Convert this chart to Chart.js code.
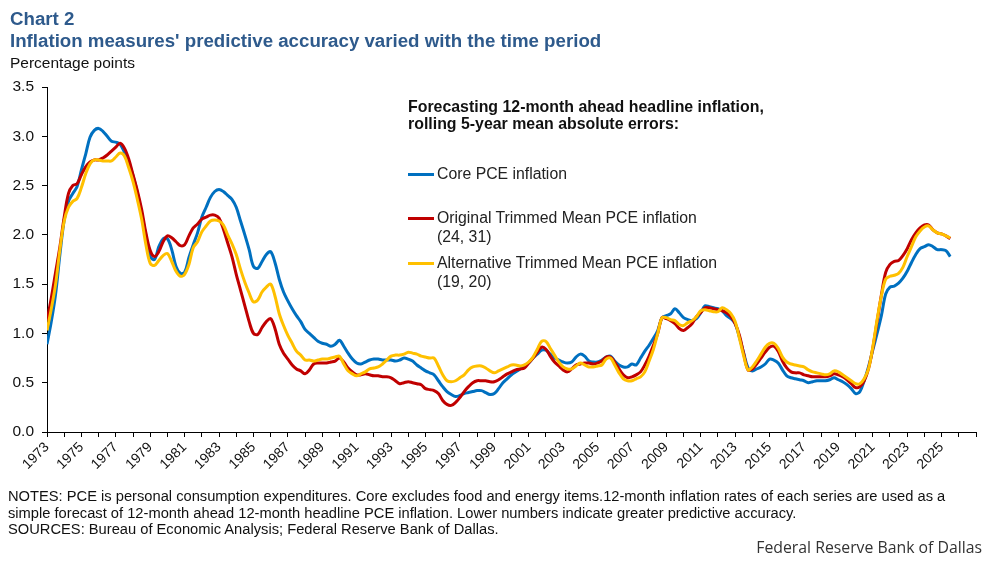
<!DOCTYPE html>
<html>
<head>
<meta charset="utf-8">
<script src="https://cdn.jsdelivr.net/npm/chart.js@4.4.1/dist/chart.umd.min.js"></script>
<style>
  body { margin: 0; background: #fff; font-family: "Liberation Sans", Arial, sans-serif; }
  #wrap { position: relative; width: 997px; height: 565px; overflow: hidden; }
  #chart { position: absolute; left: 0; top: 0; }
  .t { position: absolute; white-space: nowrap; }
  .title { left: 10px; font-weight: bold; font-size: 18.7px; line-height: 20px; color: #2e5a8c; }
  .units { left: 10px; top: 54px; font-size: 15.5px; line-height: 18px; color: #111; }
  .legend-head { left: 408px; top: 98px; font-weight: bold; font-size: 15.9px; line-height: 17px; color: #111; }
  .legend-item { left: 437px; font-size: 15.8px; line-height: 19px; color: #222; }
  .swatch { position: absolute; left: 408px; width: 26px; height: 3px; }
  .notes { left: 8px; top: 488px; font-size: 14.7px; line-height: 16.5px; color: #111; }
  .credit { right: 15px; top: 536px; font-family: "Open Sans", sans-serif; font-size: 15.8px; color: #333; }
</style>
</head>
<body>
<div id="wrap">
  <canvas id="chart" width="997" height="565"></canvas>
  <div class="t title" style="top:9px">Chart 2</div>
  <div class="t title" style="top:31px">Inflation measures' predictive accuracy varied with the time period</div>
  <div class="t units">Percentage points</div>
  <div class="t legend-head">Forecasting 12-month ahead headline inflation,<br>rolling 5-year mean absolute errors:</div>
  <div class="swatch" style="top:173px;background:#0070c0"></div>
  <div class="t legend-item" style="top:164px">Core PCE inflation</div>
  <div class="swatch" style="top:217px;background:#c00000"></div>
  <div class="t legend-item" style="top:208px">Original Trimmed Mean PCE inflation<br>(24, 31)</div>
  <div class="swatch" style="top:262px;background:#ffc000"></div>
  <div class="t legend-item" style="top:253px">Alternative Trimmed Mean PCE inflation<br>(19, 20)</div>
  <div class="t notes">NOTES: PCE is personal consumption expenditures. Core excludes food and energy items.12-month inflation rates of each series are used as a<br>simple forecast of 12-month ahead 12-month headline PCE inflation. Lower numbers indicate greater predictive accuracy.<br>SOURCES: Bureau of Economic Analysis; Federal Reserve Bank of Dallas.</div>
  <div class="t credit">Federal Reserve Bank of Dallas</div>
</div>
<script>
// quarterly readings, 1973Q1 .. 2025Q3
const corePce = [
  0.89, 1.12, 1.40, 1.80, // 1973
  2.15, 2.34, 2.42, 2.49,
  2.66, 2.82, 2.99, 3.06, // 1975
  3.08, 3.05, 3.00, 2.95,
  2.94, 2.92, 2.84, 2.74, // 1977
  2.60, 2.43, 2.22, 1.99,
  1.78, 1.75, 1.88, 1.96, // 1979
  1.96, 1.85, 1.68, 1.61,
  1.62, 1.77, 1.90, 2.02, // 1981
  2.18, 2.28, 2.38, 2.44,
  2.46, 2.44, 2.40, 2.36, // 1983
  2.28, 2.14, 2.00, 1.85,
  1.68, 1.66, 1.73, 1.80, // 1985
  1.83, 1.72, 1.55, 1.42,
  1.33, 1.25, 1.18, 1.12, // 1987
  1.04, 1.00, 0.96, 0.92,
  0.90, 0.89, 0.87, 0.89, // 1989
  0.93, 0.87, 0.80, 0.74,
  0.70, 0.69, 0.71, 0.73, // 1991
  0.74, 0.74, 0.73, 0.73,
  0.73, 0.72, 0.73, 0.75, // 1993
  0.74, 0.72, 0.68, 0.65,
  0.62, 0.60, 0.58, 0.52, // 1995
  0.46, 0.41, 0.38, 0.36,
  0.37, 0.39, 0.40, 0.41, // 1997
  0.42, 0.42, 0.40, 0.38,
  0.39, 0.44, 0.50, 0.54, // 1999
  0.58, 0.61, 0.64, 0.67,
  0.70, 0.75, 0.79, 0.83, // 2001
  0.83, 0.79, 0.75, 0.73,
  0.71, 0.70, 0.71, 0.76, // 2003
  0.79, 0.77, 0.72, 0.71,
  0.71, 0.73, 0.76, 0.77, // 2005
  0.72, 0.68, 0.66, 0.66,
  0.69, 0.68, 0.75, 0.82, // 2007
  0.88, 0.95, 1.03, 1.16,
  1.18, 1.20, 1.25, 1.21, // 2009
  1.16, 1.14, 1.13, 1.15,
  1.21, 1.28, 1.27, 1.26, // 2011
  1.25, 1.23, 1.18, 1.15,
  1.10, 0.96, 0.80, 0.65, // 2013
  0.62, 0.64, 0.66, 0.69,
  0.74, 0.73, 0.70, 0.63, // 2015
  0.57, 0.55, 0.54, 0.53,
  0.52, 0.50, 0.51, 0.52, // 2017
  0.52, 0.52, 0.53, 0.55,
  0.53, 0.51, 0.48, 0.44, // 2019
  0.39, 0.41, 0.52, 0.66,
  0.83, 1.00, 1.18, 1.40, // 2021
  1.47, 1.48, 1.51, 1.56,
  1.63, 1.72, 1.80, 1.86, // 2023
  1.88, 1.90, 1.88, 1.85,
  1.85, 1.84, 1.78        // 2025
];

const originalTrimmed = [
  1.13, 1.36, 1.62, 1.88, // 1973
  2.18, 2.42, 2.50, 2.52,
  2.61, 2.69, 2.74, 2.76, // 1975
  2.76, 2.78, 2.81, 2.85,
  2.89, 2.93, 2.88, 2.77, // 1977
  2.61, 2.45, 2.26, 2.02,
  1.84, 1.78, 1.83, 1.93, // 1979
  1.99, 1.97, 1.93, 1.89,
  1.90, 1.99, 2.07, 2.11, // 1981
  2.16, 2.18, 2.20, 2.20,
  2.17, 2.06, 1.92, 1.78, // 1983
  1.60, 1.44, 1.28, 1.12,
  1.00, 0.99, 1.06, 1.12, // 1985
  1.15, 1.05, 0.89, 0.80,
  0.74, 0.68, 0.64, 0.62, // 1987
  0.59, 0.63, 0.69, 0.70,
  0.70, 0.70, 0.71, 0.72, // 1989
  0.75, 0.71, 0.65, 0.61,
  0.58, 0.58, 0.59, 0.58, // 1991
  0.57, 0.57, 0.56, 0.56,
  0.55, 0.52, 0.49, 0.50, // 1993
  0.51, 0.50, 0.49, 0.48,
  0.44, 0.43, 0.42, 0.39, // 1995
  0.32, 0.28, 0.27, 0.30,
  0.35, 0.41, 0.46, 0.50, // 1997
  0.52, 0.52, 0.52, 0.51,
  0.51, 0.53, 0.56, 0.59, // 1999
  0.61, 0.63, 0.64, 0.65,
  0.70, 0.75, 0.81, 0.86, // 2001
  0.84, 0.77, 0.71, 0.67,
  0.63, 0.61, 0.64, 0.68, // 2003
  0.69, 0.70, 0.70, 0.69,
  0.70, 0.72, 0.76, 0.76, // 2005
  0.71, 0.64, 0.58, 0.55,
  0.56, 0.58, 0.61, 0.68, // 2007
  0.77, 0.88, 1.00, 1.16,
  1.15, 1.13, 1.10, 1.05, // 2009
  1.03, 1.06, 1.10, 1.17,
  1.21, 1.26, 1.26, 1.25, // 2011
  1.24, 1.23, 1.21, 1.17,
  1.10, 0.98, 0.79, 0.63, // 2013
  0.64, 0.69, 0.75, 0.81,
  0.86, 0.87, 0.82, 0.72, // 2015
  0.65, 0.61, 0.60, 0.60,
  0.58, 0.57, 0.56, 0.56, // 2017
  0.56, 0.56, 0.57, 0.59,
  0.58, 0.56, 0.53, 0.49, // 2019
  0.45, 0.46, 0.52, 0.64,
  0.85, 1.12, 1.39, 1.62, // 2021
  1.70, 1.73, 1.74, 1.79,
  1.86, 1.95, 2.02, 2.07, // 2023
  2.10, 2.10, 2.05, 2.02,
  2.01, 1.99, 1.96        // 2025
];

const alternativeTrimmed = [
  1.03, 1.25, 1.50, 1.85, // 1973
  2.14, 2.28, 2.34, 2.37,
  2.48, 2.62, 2.72, 2.76, // 1975
  2.76, 2.75, 2.75, 2.75,
  2.79, 2.83, 2.80, 2.68, // 1977
  2.54, 2.36, 2.16, 1.90,
  1.71, 1.69, 1.74, 1.79, // 1979
  1.81, 1.73, 1.63, 1.58,
  1.60, 1.70, 1.87, 1.93, // 1981
  2.03, 2.09, 2.14, 2.15,
  2.14, 2.10, 2.00, 1.91, // 1983
  1.80, 1.65, 1.52, 1.41,
  1.32, 1.34, 1.42, 1.47, // 1985
  1.50, 1.38, 1.20, 1.08,
  0.98, 0.90, 0.82, 0.78, // 1987
  0.73, 0.73, 0.72, 0.73,
  0.74, 0.74, 0.75, 0.76, // 1989
  0.77, 0.69, 0.62, 0.59,
  0.57, 0.59, 0.61, 0.64, // 1991
  0.65, 0.66, 0.69, 0.73,
  0.77, 0.78, 0.78, 0.79, // 1993
  0.81, 0.80, 0.79, 0.77,
  0.76, 0.75, 0.75, 0.67, // 1995
  0.58, 0.52, 0.51, 0.52,
  0.55, 0.58, 0.63, 0.66, // 1997
  0.67, 0.67, 0.65, 0.62,
  0.60, 0.62, 0.64, 0.66, // 1999
  0.68, 0.68, 0.67, 0.68,
  0.71, 0.76, 0.84, 0.92, // 2001
  0.92, 0.85, 0.78, 0.71,
  0.66, 0.64, 0.64, 0.67, // 2003
  0.70, 0.68, 0.66, 0.66,
  0.67, 0.68, 0.74, 0.75, // 2005
  0.68, 0.60, 0.54, 0.52,
  0.52, 0.54, 0.56, 0.61, // 2007
  0.72, 0.84, 1.00, 1.16,
  1.16, 1.14, 1.13, 1.09, // 2009
  1.08, 1.11, 1.13, 1.17,
  1.23, 1.24, 1.23, 1.22, // 2011
  1.22, 1.26, 1.24, 1.20,
  1.12, 0.95, 0.77, 0.63, // 2013
  0.66, 0.72, 0.79, 0.86,
  0.90, 0.90, 0.85, 0.76, // 2015
  0.71, 0.69, 0.68, 0.67,
  0.66, 0.63, 0.61, 0.60, // 2017
  0.59, 0.58, 0.59, 0.62,
  0.61, 0.58, 0.55, 0.52, // 2019
  0.49, 0.49, 0.54, 0.64,
  0.86, 1.14, 1.38, 1.55, // 2021
  1.58, 1.59, 1.61, 1.67,
  1.78, 1.88, 1.98, 2.04, // 2023
  2.08, 2.09, 2.05, 2.02,
  2.01, 1.99, 1.97        // 2025
];

// one reading per quarter
const years = corePce.map((_, i) => 1973 + i * 0.25);

const tickYears = [1973, 1975, 1977, 1979, 1981, 1983, 1985, 1987, 1989, 1991, 1993,
  1995, 1997, 1999, 2001, 2003, 2005, 2007, 2009, 2011, 2013, 2015, 2017, 2019,
  2021, 2023, 2025];
const yTicks = ["0.0", "0.5", "1.0", "1.5", "2.0", "2.5", "3.0", "3.5"];

function toPoints(values) {
  return values.map((v, i) => ({ x: years[i], y: v }));
}

function lineSet(label, values, color, order) {
  return {
    label: label,
    data: toPoints(values),
    borderColor: color,
    backgroundColor: color,
    borderWidth: 3,
    pointRadius: 0,
    tension: 0.35,
    order: order,
  };
}

new Chart(document.getElementById("chart"), {
  type: "line",
  data: {
    datasets: [
      lineSet("Alternative Trimmed Mean PCE inflation", alternativeTrimmed, "#ffc000", 1),
      lineSet("Original Trimmed Mean PCE inflation", originalTrimmed, "#c00000", 2),
      lineSet("Core PCE inflation", corePce, "#0070c0", 3),
    ],
  },
  options: {
    responsive: false,
    animation: false,
    layout: { padding: { left: 0, top: 87, right: 21, bottom: 73 } },
    plugins: { legend: { display: false }, tooltip: { enabled: false } },
    scales: {
      x: {
        type: "linear",
        min: 1973,
        max: 2027,
        afterFit: (s) => { s.height = 60; },
        ticks: {
          stepSize: 1,
          autoSkip: false,
          minRotation: 45,
          maxRotation: 45,
          padding: 2,
          color: "#111",
          font: { family: "'Liberation Sans', Arial", size: 14 },
          callback: (v) => (tickYears.includes(v) ? String(v) : ""),
        },
        grid: { drawOnChartArea: false, drawTicks: true, tickLength: 5, color: "#000" },
        border: { color: "#000", width: 1 },
      },
      y: {
        min: 0,
        max: 3.5,
        afterFit: (s) => { s.width = 47; },
        ticks: {
          stepSize: 0.5,
          padding: 8,
          color: "#111",
          font: { family: "'Liberation Sans', Arial", size: 15.5 },
          callback: (v) => yTicks[Math.round(v * 2)],
        },
        grid: { drawOnChartArea: false, drawTicks: true, tickLength: 5, color: "#000" },
        border: { color: "#000", width: 1 },
      },
    },
  },
});
</script>
</body>
</html>
